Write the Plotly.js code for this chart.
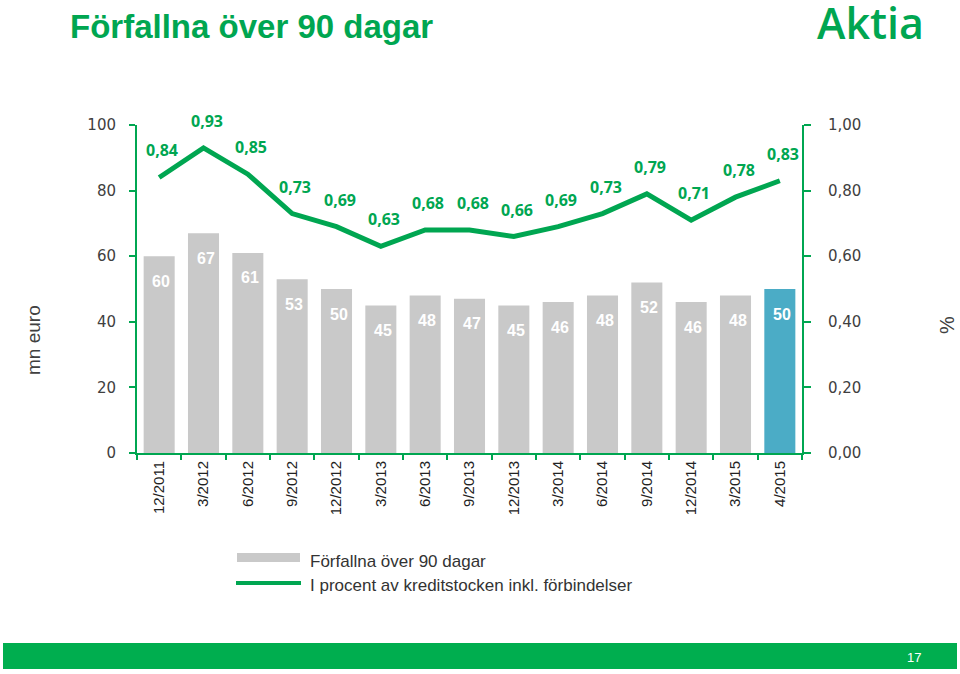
<!DOCTYPE html>
<html>
<head>
<meta charset="utf-8">
<script src="https://cdn.plot.ly/plotly-3.0.1.min.js"></script>
<style>html,body{margin:0;padding:0;background:#fff;}#chart{width:960px;height:674px;}</style>
</head>
<body>
<div id="chart"></div>
<script>
const categories = ["12/2011","3/2012","6/2012","9/2012","12/2012","3/2013","6/2013","9/2013","12/2013","3/2014","6/2014","9/2014","12/2014","3/2015","4/2015"];
const overdueValues = [60,67,61,53,50,45,48,47,45,46,48,52,46,48,50];
const percentValues = [0.84,0.93,0.85,0.73,0.69,0.63,0.68,0.68,0.66,0.69,0.73,0.79,0.71,0.78,0.83];
const barColors = ["#C9C9C9","#C9C9C9","#C9C9C9","#C9C9C9","#C9C9C9","#C9C9C9","#C9C9C9","#C9C9C9","#C9C9C9","#C9C9C9","#C9C9C9","#C9C9C9","#C9C9C9","#C9C9C9","#4BACC6"];
const leftTicks = [0,20,40,60,80,100];
const rightTicks = [0,0.2,0.4,0.6,0.8,1.0];
const seriesNames = ["Förfallna över 90 dagar","I procent av kreditstocken inkl. förbindelser"];

const GREEN = "#00A651";
const TXT = "#404040";

const traces = [
  {type:"bar", x:categories, y:overdueValues, marker:{color:barColors}, name:seriesNames[0], showlegend:false, hoverinfo:"skip"},
  {type:"scatter", mode:"lines", x:categories, y:percentValues, yaxis:"y2", line:{color:GREEN,width:5}, name:seriesNames[1], showlegend:false, hoverinfo:"skip"}
];

const annotations = [];
categories.forEach((c,i)=>{
  annotations.push({x:c, y:overdueValues[i], xref:"x", yref:"y", text:String(overdueValues[i]), showarrow:false, yshift:-25, xshift:2,
    yanchor:"middle", font:{family:"Liberation Sans, Arial", size:16, color:"#ffffff", weight:"bold"}});
  annotations.push({x:c, y:percentValues[i], xref:"x", yref:"y2", text:percentValues[i].toFixed(2).replace(".",","), showarrow:false, yshift:27, xshift:3,
    yanchor:"middle", font:{family:"Open Sans", size:16, color:GREEN, weight:"bold"}});
});

// helpers for paper coords (plot area 137..802 x, 125..453 y)
const px = v => (v-137)/665;
const py = v => (453-v)/328;

annotations.push({xref:"paper", yref:"paper", x:px(33), y:py(340), yanchor:"middle", xanchor:"center", text:"mn euro", textangle:-90, showarrow:false,
  font:{family:"Liberation Sans, Arial", size:19, color:TXT}});
annotations.push({xref:"paper", yref:"paper", x:px(947), y:py(325), yanchor:"middle", xanchor:"center", text:"%", textangle:-90, showarrow:false,
  font:{family:"Liberation Sans, Arial", size:20, color:TXT}});
annotations.push({xref:"paper", yref:"paper", x:px(926), y:py(23), xanchor:"right", yanchor:"middle", text:"Aktia", showarrow:false,
  font:{family:"Open Sans", size:43, color:GREEN, weight:600}});
annotations.push({xref:"paper", yref:"paper", x:px(308), y:py(561), xanchor:"left", yanchor:"middle", text:seriesNames[0], showarrow:false,
  font:{family:"Liberation Sans, Arial", size:17, color:"#333"}});
annotations.push({xref:"paper", yref:"paper", x:px(308), y:py(585), xanchor:"left", yanchor:"middle", text:seriesNames[1], showarrow:false,
  font:{family:"Liberation Sans, Arial", size:17, color:"#333"}});
annotations.push({xref:"paper", yref:"paper", x:px(923), y:py(657), xanchor:"right", yanchor:"middle", text:"17", showarrow:false,
  font:{family:"Liberation Sans, Arial", size:13, color:"#ffffff"}});

const shapes = [
  {type:"rect", xref:"paper", yref:"paper", x0:px(237), x1:px(300), y0:py(553), y1:py(562), fillcolor:"#C9C9C9", line:{width:0}},
  {type:"line", xref:"paper", yref:"paper", x0:px(236), x1:px(301), y0:py(583), y1:py(583), line:{color:GREEN, width:4}},
  {type:"rect", xref:"paper", yref:"paper", x0:px(3), x1:px(957), y0:py(643), y1:py(669), fillcolor:"#00AE4F", line:{width:0}, layer:"below"}
];

const layout = {
  width:960, height:674,
  margin:{l:137, r:158, t:125, b:221, pad:0},
  paper_bgcolor:"#fff", plot_bgcolor:"#fff",
  separators:", ",
  showlegend:false,
  bargap:0.3,
  title:{text:"Förfallna över 90 dagar", xref:"container", yref:"container", x:70/960, xanchor:"left", y:1-26/674, yanchor:"middle",
    font:{family:"Liberation Sans, Arial", size:33, color:GREEN, weight:"bold"}},
  xaxis:{type:"category", showline:true, linecolor:GREEN, linewidth:2, ticks:"outside", ticklen:5, tickcolor:GREEN, tickwidth:2,
    tickson:"boundaries", tickangle:-90, showgrid:false, zeroline:false,
    tickfont:{family:"Liberation Sans Narrow, Liberation Sans, Arial", size:15, color:"#222"}, range:[-0.5,14.5]},
  yaxis:{range:[0,100], tickvals:leftTicks, showline:true, linecolor:GREEN, linewidth:2, ticks:"outside", ticklen:6, tickcolor:GREEN, tickwidth:2,
    showgrid:false, zeroline:false, ticklabelstandoff:10, tickfont:{family:"DejaVu Sans", size:15, color:TXT}},
  yaxis2:{range:[0,1], overlaying:"y", side:"right", tickvals:rightTicks, tickformat:".2f", showline:true, linecolor:GREEN, linewidth:2,
    ticks:"outside", ticklen:7, tickcolor:GREEN, tickwidth:2, showgrid:false, zeroline:false, ticklabelstandoff:14,
    tickfont:{family:"DejaVu Sans", size:15, color:TXT}},
  annotations:annotations,
  shapes:shapes
};

Plotly.newPlot("chart", traces, layout, {staticPlot:true, displayModeBar:false});
</script>
</body>
</html>
